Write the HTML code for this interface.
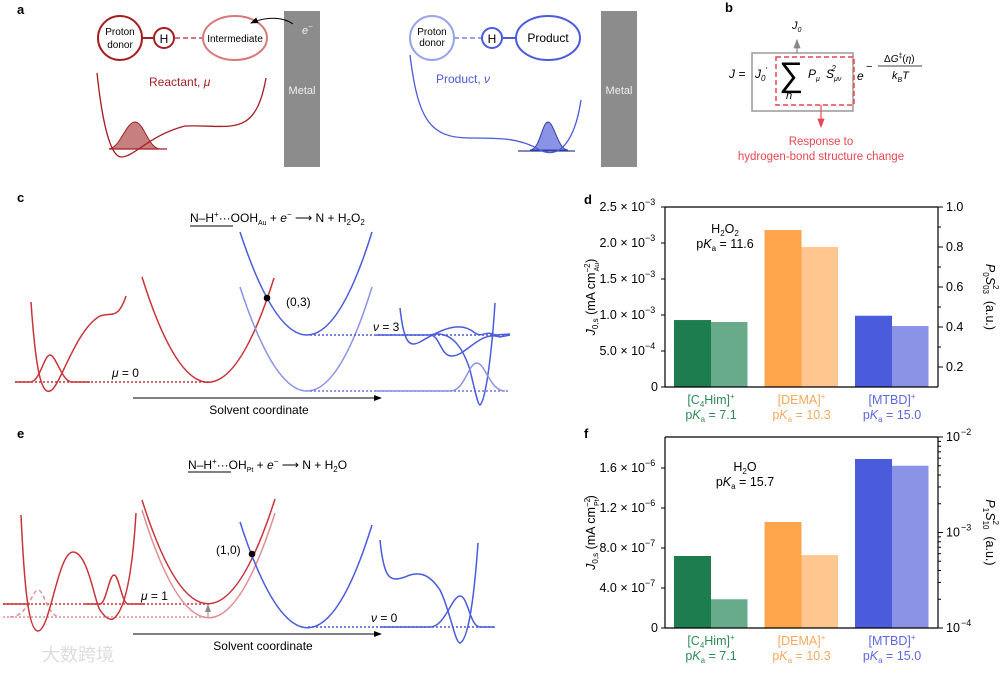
<!DOCTYPE html>
<html><head><meta charset="utf-8">
<style>
html,body{margin:0;padding:0;background:#fff;}
svg{display:block;font-family:"Liberation Sans","Noto Sans CJK SC",sans-serif;}
</style></head>
<body>
<svg id="fig" width="1008" height="674" viewBox="0 0 1008 674" xmlns="http://www.w3.org/2000/svg">
<defs>
<marker id="ah" markerWidth="8" markerHeight="8" refX="7" refY="4" orient="auto"><path d="M0,1 L8,4 L0,7 z" fill="#000"/></marker>
<marker id="ahg" markerWidth="8" markerHeight="8" refX="7" refY="4" orient="auto"><path d="M0,1 L8,4 L0,7 z" fill="#888"/></marker>
<marker id="ahr" markerWidth="8" markerHeight="8" refX="7" refY="4" orient="auto"><path d="M0,1 L8,4 L0,7 z" fill="#e8474f"/></marker>
</defs>
<g font-weight="bold" font-size="13">
<text x="17" y="14">a</text>
<text x="725" y="12">b</text>
<text x="17" y="202">c</text>
<text x="584" y="204">d</text>
<text x="17" y="438">e</text>
<text x="584" y="438">f</text>
</g>

<!-- Panel a -->
<g>
<circle cx="120" cy="38" r="22" fill="none" stroke="#a51e22" stroke-width="2"/>
<text x="120" y="35" font-size="10" text-anchor="middle">Proton</text>
<text x="120" y="48" font-size="10" text-anchor="middle">donor</text>
<line x1="142" y1="38" x2="153" y2="38" stroke="#a51e22" stroke-width="2"/>
<circle cx="164" cy="38" r="10" fill="none" stroke="#a51e22" stroke-width="2"/>
<text x="164" y="43" font-size="12" text-anchor="middle">H</text>
<line x1="175" y1="38" x2="203" y2="38" stroke="#d9787a" stroke-width="2" stroke-dasharray="5,3"/>
<ellipse cx="235" cy="38" rx="32" ry="22" fill="none" stroke="#d9787a" stroke-width="2"/>
<text x="235" y="42" font-size="10" text-anchor="middle">Intermediate</text>
<rect x="284" y="11" width="36" height="156" fill="#8c8c8c"/>
<text x="302" y="94" font-size="11" fill="#eee" text-anchor="middle">Metal</text>
<text x="302" y="34" font-size="11" fill="#eee" font-style="italic">e<tspan font-size="8" dy="-5">−</tspan></text>
<path d="M293,24 C282,16 265,17 251,23" fill="none" stroke="#000" stroke-width="1" marker-end="url(#ah)"/>
<text x="149" y="86" font-size="12" fill="#a51e22">Reactant, <tspan font-style="italic">μ</tspan></text>
<path d="M109,149 C120,148 126,122 135,122 C144,122 148,148 160,149 z" fill="#c77f80" stroke="#a51e22" stroke-width="1"/>
<line x1="109" y1="149" x2="167" y2="149" stroke="#a51e22" stroke-width="1.3"/>
<path d="M97,73 C102,120 110,158 122,157 C135,156 150,135 185,126 C230,124 255,140 266,78" fill="none" stroke="#a51e22" stroke-width="1.3"/>

<circle cx="432" cy="38" r="22" fill="none" stroke="#9aa3e8" stroke-width="2"/>
<text x="432" y="35" font-size="10" text-anchor="middle">Proton</text>
<text x="432" y="46" font-size="10" text-anchor="middle">donor</text>
<line x1="454" y1="38" x2="481" y2="38" stroke="#9aa3e8" stroke-width="2" stroke-dasharray="5,3"/>
<circle cx="492" cy="38" r="10" fill="none" stroke="#4a5bdc" stroke-width="2"/>
<text x="492" y="43" font-size="12" text-anchor="middle">H</text>
<line x1="502" y1="38" x2="516" y2="38" stroke="#4a5bdc" stroke-width="2"/>
<ellipse cx="548" cy="38" rx="32" ry="22" fill="none" stroke="#4a5bdc" stroke-width="2"/>
<text x="548" y="42" font-size="12" text-anchor="middle">Product</text>
<text x="436" y="83" font-size="12" fill="#4a5bdc">Product, <tspan font-style="italic">ν</tspan></text>
<rect x="601" y="11" width="36" height="156" fill="#8c8c8c"/>
<text x="619" y="94" font-size="11" fill="#eee" text-anchor="middle">Metal</text>
<path d="M530,150 C540,150 542,122 548,122 C554,122 558,150 568,150 z" fill="#8a93e6" stroke="#30409a" stroke-width="1"/>
<line x1="518" y1="151" x2="575" y2="151" stroke="#30409a" stroke-width="1.3"/>
<path d="M410,55 C418,120 430,138 470,138 C500,138 520,138 540,150 C560,160 575,140 581,100" fill="none" stroke="#4a5bdc" stroke-width="1.3"/>
</g>

<!-- Panel b -->
<g>
<rect x="752" y="53" width="101" height="58" fill="none" stroke="#999" stroke-width="1.5"/>
<rect x="776" y="57" width="78" height="48" fill="none" stroke="#e8474f" stroke-width="1.5" stroke-dasharray="5,3"/>
<text x="729" y="78" font-size="12" font-style="italic">J =</text>
<text x="755" y="78" font-size="12" font-style="italic">J<tspan font-size="8" dy="3">0</tspan><tspan dy="-8" font-size="8">′</tspan></text>
<text x="779" y="86" font-size="34">∑</text>
<text x="786" y="99" font-size="11" font-style="italic">n</text>
<text x="808" y="78" font-size="12" font-style="italic">P<tspan font-size="7" dy="3">μ</tspan></text>
<text x="826" y="78" font-size="12" font-style="italic">S<tspan font-size="7" dy="3">μν</tspan><tspan font-size="8" dx="-10" dy="-10">2</tspan></text>
<text x="857" y="80" font-size="12" font-style="italic">e</text>
<text x="866" y="70" font-size="11">−</text>
<text x="884" y="62" font-size="10">Δ<tspan font-style="italic">G</tspan><tspan font-size="7" dy="-4">‡</tspan><tspan dy="4">(</tspan><tspan font-style="italic">η</tspan>)</text>
<line x1="878" y1="66" x2="922" y2="66" stroke="#000" stroke-width="0.8"/>
<text x="892" y="79" font-size="11" font-style="italic">k<tspan font-size="7" dy="3">B</tspan><tspan dy="-3">T</tspan></text>
<text x="792" y="29" font-size="11" font-style="italic">J<tspan font-size="7" dy="3">0</tspan></text>
<line x1="797" y1="53" x2="797" y2="40" stroke="#888" stroke-width="1.2" marker-end="url(#ahg)"/>
<line x1="821" y1="105" x2="821" y2="127" stroke="#e8474f" stroke-width="1.2" marker-end="url(#ahr)"/>
<text x="821" y="145" font-size="11.5" fill="#e8474f" text-anchor="middle">Response to</text>
<text x="821" y="160" font-size="11.5" fill="#e8474f" text-anchor="middle">hydrogen-bond structure change</text>
</g>

<!-- Panel c -->
<g stroke-width="1.5" fill="none">
<text x="190" y="222" font-size="12" fill="#000" stroke="none">N–H<tspan font-size="8" dy="-5">+</tspan><tspan dy="5">···OOH</tspan><tspan font-size="7" dy="3">Au</tspan><tspan dy="-3"> + </tspan><tspan font-style="italic">e</tspan><tspan font-size="8" dy="-5">−</tspan><tspan dy="5"> ⟶  N + H</tspan><tspan font-size="8" dy="3">2</tspan><tspan dy="-3">O</tspan><tspan font-size="8" dy="3">2</tspan></text>
<line x1="190" y1="226" x2="233" y2="226" stroke="#000" stroke-width="1"/>
<line x1="15" y1="382" x2="210" y2="382" stroke="#c8343a" stroke-dasharray="2,2"/>
<path d="M31,302 C35,360 40,395 50,391 C60,388 75,330 100,316 C112,312 118,320 126,296" stroke="#c8343a"/>
<path d="M15,382 L30,382 C40,382 44,355 50,355 C56,355 62,382 72,382 L90,382" stroke="#c8343a"/>
<path d="M142,277 Q208,487 274,278" stroke="#c8343a"/>
<path d="M240,232 Q308,438 372,232" stroke="#4a5bdc"/>
<path d="M240,287 Q308,495 372,287" stroke="#8a93e6"/>
<line x1="310" y1="335" x2="510" y2="335" stroke="#4a5bdc" stroke-dasharray="2,2"/>
<line x1="310" y1="391" x2="510" y2="391" stroke="#6a78e0" stroke-dasharray="2,2"/>
<path d="M376,335 L430,335 C440,335 440,356 452,356 C466,356 480,330 500,337 L510,335" stroke="#4a5bdc"/>
<path d="M400,308 C404,345 410,347 420,342 C440,330 460,320 475,333 C482,338 486,330 495,335 L510,334" stroke="#4a5bdc"/>
<path d="M430,335 C450,330 462,345 470,370 C476,395 478,405 480,405 C486,400 492,350 495,303" stroke="#4a5bdc"/>
<path d="M376,391 L450,391 C465,391 468,363 477,363 C485,363 490,391 505,391" stroke="#8a93e6"/>
<circle cx="267" cy="298" r="3.3" fill="#000" stroke="none"/>
<text x="286" y="306" font-size="12" fill="#000" stroke="none">(0,3)</text>
<text x="112" y="377" font-size="12" fill="#000" stroke="none"><tspan font-style="italic">μ</tspan> = 0</text>
<text x="373" y="331" font-size="12" fill="#000" stroke="none"><tspan font-style="italic">ν</tspan> = 3</text>
<line x1="133" y1="398" x2="381" y2="398" stroke="#000" stroke-width="1" marker-end="url(#ah)"/>
<text x="259" y="414" font-size="12" fill="#000" stroke="none" text-anchor="middle">Solvent coordinate</text>
</g>

<!-- Panel e -->
<g stroke-width="1.5" fill="none">
<text x="188" y="469" font-size="12" fill="#000" stroke="none">N–H<tspan font-size="8" dy="-5">+</tspan><tspan dy="5">···OH</tspan><tspan font-size="7" dy="3">Pt</tspan><tspan dy="-3"> + </tspan><tspan font-style="italic">e</tspan><tspan font-size="8" dy="-5">−</tspan><tspan dy="5"> ⟶ N + H</tspan><tspan font-size="8" dy="3">2</tspan><tspan dy="-3">O</tspan></text>
<line x1="188" y1="472" x2="231" y2="472" stroke="#000" stroke-width="1"/>
<line x1="3" y1="604" x2="210" y2="604" stroke="#c8343a" stroke-dasharray="2,2"/>
<line x1="3" y1="617" x2="210" y2="617" stroke="#e09093" stroke-dasharray="2,2"/>
<path d="M10,617 C28,617 32,590 38,590 C44,590 48,617 60,617" stroke="#e09093" stroke-dasharray="4,3"/>
<path d="M21,515 C24,580 28,631 38,631 C50,631 58,552 73,552 C88,552 95,604 100,610 C106,619 110,620 113,619 C124,612 132,580 136,513" stroke="#c8343a"/>
<path d="M3,604 L30,604 M85,604 L100,604 C106,604 109,575 114,575 C119,575 122,604 128,604 L145,604" stroke="#c8343a"/>
<path d="M142,500 Q208,708 275,499" stroke="#c8343a"/>
<path d="M142,510 Q208,724 275,513" stroke="#e09093"/>
<line x1="208" y1="616" x2="208" y2="605" stroke="#888" stroke-width="1" marker-end="url(#ahg)"/>
<path d="M240,522 Q308,732 372,525" stroke="#4a5bdc"/>
<line x1="308" y1="627" x2="495" y2="627" stroke="#4a5bdc" stroke-dasharray="2,2"/>
<path d="M380,540 C384,580 390,582 405,577 C420,570 430,575 440,590 C450,610 455,643 460,643 C468,640 474,600 478,543" stroke="#4a5bdc"/>
<path d="M380,627 L430,627 C445,627 452,596 460,596 C468,596 470,627 480,627 L495,627" stroke="#4a5bdc"/>
<circle cx="252" cy="554" r="3.3" fill="#000" stroke="none"/>
<text x="216" y="554" font-size="12" fill="#000" stroke="none">(1,0)</text>
<text x="141" y="600" font-size="12" fill="#000" stroke="none"><tspan font-style="italic">μ</tspan> = 1</text>
<text x="371" y="622" font-size="12" fill="#000" stroke="none"><tspan font-style="italic">ν</tspan> = 0</text>
<line x1="133" y1="634" x2="381" y2="634" stroke="#000" stroke-width="1" marker-end="url(#ah)"/>
<text x="263" y="650" font-size="12" fill="#000" stroke="none" text-anchor="middle">Solvent coordinate</text>
<text x="42" y="661" font-size="18" fill="#ddd" stroke="none">大数跨境</text>
</g>

<g id="chartD"></g>
<g id="chartF"></g>
</svg>
<script>
const categories = ["[C4Him]+", "[DEMA]+", "[MTBD]+"];
const pkaLabels = ["7.1", "10.3", "15.0"];
const dLeftValues = [0.93e-3, 2.18e-3, 0.99e-3];
const dRightValues = [0.425, 0.80, 0.405];
const dLeftTicks = ["0", "5.0 × 10", "1.0 × 10", "1.5 × 10", "2.0 × 10", "2.5 × 10"];
const dLeftTickVals = [0, 0.5e-3, 1.0e-3, 1.5e-3, 2.0e-3, 2.5e-3];
const dLeftTickExp = ["", "−4", "−3", "−3", "−3", "−3"];
const dRightTickVals = [0.2, 0.4, 0.6, 0.8, 1.0];
const dRightTicks = ["0.2", "0.4", "0.6", "0.8", "1.0"];
const fLeftValues = [0.72e-6, 1.06e-6, 1.69e-6];
const fRightValues = [2.0e-4, 5.8e-4, 5.0e-3];
const fLeftTickVals = [0, 4e-7, 8e-7, 1.2e-6, 1.6e-6];
const fLeftTicks = ["0", "4.0 × 10", "8.0 × 10", "1.2 × 10", "1.6 × 10"];
const fLeftTickExp = ["", "−7", "−7", "−6", "−6"];
const fRightTickVals = [1e-4, 1e-3, 1e-2];
const fRightTickExp = ["−4", "−3", "−2"];

const NS = "http://www.w3.org/2000/svg";
const darkC = ["#1e7d4f", "#ffa64d", "#4a5bdc"];
const lightC = ["#68ab8a", "#ffc78f", "#8a93e6"];
const labC = ["#2e8b57", "#f7a95c", "#5b67e0"];
function mk(parent, tag, attrs, text) {
  const e = document.createElementNS(NS, tag);
  for (const k in attrs) e.setAttribute(k, attrs[k]);
  if (text !== undefined) e.textContent = text;
  parent.appendChild(e);
  return e;
}
function drawChart(gid, o) {
  const g = document.getElementById(gid);
  const X0 = 665, X1 = 938, top = o.top, bot = o.bot;
  const yL = v => bot - (v - 0) / o.lMax * (bot - top);
  const yR = o.rLog
    ? v => bot - (Math.log10(v) - Math.log10(o.rMin)) / (Math.log10(o.rMax) - Math.log10(o.rMin)) * (bot - top)
    : v => bot - (v - o.rMin) / (o.rMax - o.rMin) * (bot - top);
  const groupX = i => 674 + i * 90.5;
  for (let i = 0; i < categories.length; i++) {
    const x = groupX(i);
    const b1 = mk(g, "rect", {x: x, y: yL(o.lv[i]), width: 37, height: bot - yL(o.lv[i]), fill: darkC[i]});
    
    
    const b2 = mk(g, "rect", {x: x + 37, y: yR(o.rv[i]), width: 36.5, height: bot - yR(o.rv[i]), fill: lightC[i]});
    
    
    const cx = x + 37;
    const t1 = mk(g, "text", {x: cx, y: bot + 17, "font-size": 12.5, fill: labC[i], "text-anchor": "middle"});
    
    
    if (i === 0) { t1.innerHTML = '[C<tspan font-size="8" dy="3">4</tspan><tspan dy="-3">Him]</tspan><tspan font-size="8" dy="-5">+</tspan>'; }
    else { t1.innerHTML = categories[i].slice(0, -1) + '<tspan font-size="8" dy="-5">+</tspan>'; }
    const t2 = mk(g, "text", {x: cx, y: bot + 32, "font-size": 12.5, fill: labC[i], "text-anchor": "middle"});
    
    
    t2.innerHTML = 'p<tspan font-style="italic">K</tspan><tspan font-size="8" dy="3">a</tspan><tspan dy="-3"> = ' + pkaLabels[i] + '</tspan>';
  }
  mk(g, "line", {x1: X0, y1: top, x2: X0, y2: bot, stroke: "#000", "stroke-width": 1.2});
  mk(g, "line", {x1: X1, y1: top, x2: X1, y2: bot, stroke: "#000", "stroke-width": 1.2});
  mk(g, "line", {x1: X0, y1: bot, x2: X1, y2: bot, stroke: "#000", "stroke-width": 1.2});
  mk(g, "line", {x1: X0, y1: top, x2: X1, y2: top, stroke: "#000", "stroke-width": 1.2});
  o.lTicks.forEach((v, i) => {
    const y = yL(v);
    mk(g, "line", {x1: X0 - 4, y1: y, x2: X0, y2: y, stroke: "#000"});
    const t = mk(g, "text", {x: X0 - 7, y: y + 4, "font-size": 12.5, "text-anchor": "end"});
    
    
    if (o.lExp[i]) { t.setAttribute("x", X0 - 20); t.textContent = o.lLab[i]; mk(g, "text", {x: X0 - 20, y: y - 2, "font-size": 9}, o.lExp[i]); }
    else t.textContent = o.lLab[i];
  });
  o.rTicks.forEach((v, i) => {
    const y = yR(v);
    mk(g, "line", {x1: X1, y1: y, x2: X1 + 5, y2: y, stroke: "#000"});
    const t = mk(g, "text", {x: X1 + 8, y: y + 4, "font-size": 12.5});
    
    
    if (o.rLog) { t.textContent = "10"; mk(g, "text", {x: X1 + 23, y: y - 2, "font-size": 9}, o.rExp[i]); }
    else t.textContent = o.rLab[i];
  });
  (o.minor || []).forEach(v => { const y = yR(v); mk(g, "line", {x1: X1, y1: y, x2: X1 + 3, y2: y, stroke: "#000"}); });
  const yl = mk(g, "text", {transform: "translate(" + (X0 - 70) + "," + ((top + bot) / 2) + ") rotate(-90)", "font-size": 12.5, "text-anchor": "middle"});
  
  
  yl.innerHTML = '<tspan font-style="italic">J</tspan><tspan font-size="8" dy="3">0,s</tspan><tspan dy="-3"> (mA cm</tspan><tspan font-size="8" dy="-5">−2</tspan><tspan font-size="7" dx="-8" dy="9">' + o.sub + '</tspan><tspan dy="-4">)</tspan>';
  const yr = mk(g, "text", {transform: "translate(" + (X1 + 48) + "," + ((top + bot) / 2) + ") rotate(90)", "font-size": 12.5, "text-anchor": "middle"});
  
  
  yr.innerHTML = '<tspan font-style="italic">P</tspan><tspan font-size="8" dy="3">' + o.rs[0] + '</tspan><tspan font-style="italic" dy="-3">S</tspan><tspan font-size="8" dy="3">' + o.rs[1] + '</tspan><tspan font-size="8" dx="-9" dy="-10">2</tspan><tspan dx="8" dy="7"> (a.u.)</tspan>';
  const a1 = mk(g, "text", {x: o.annX, y: o.annY, "font-size": 12.5, "text-anchor": "middle"});
  a1.innerHTML = o.ann;
  
  
  const a2 = mk(g, "text", {x: o.annX, y: o.annY + 15, "font-size": 12.5, "text-anchor": "middle"});
  a2.innerHTML = 'p<tspan font-style="italic">K</tspan><tspan font-size="8" dy="3">a</tspan><tspan dy="-3"> = ' + o.annPka + '</tspan>';
  
  
}
drawChart("chartD", {top: 207, bot: 387, lMax: 2.5e-3, lv: dLeftValues, rv: dRightValues, rMin: 0.1, rMax: 1.0,
  lTicks: dLeftTickVals, lLab: dLeftTicks, lExp: dLeftTickExp, rTicks: dRightTickVals, rLab: dRightTicks,
  minor: [0.3, 0.5, 0.7, 0.9], sub: "Au", rs: ["0", "03"], annX: 725, annY: 233,
  ann: 'H<tspan font-size="8" dy="3">2</tspan><tspan dy="-3">O</tspan><tspan font-size="8" dy="3">2</tspan>', annPka: "11.6"});
drawChart("chartF", {top: 437, bot: 628, lMax: 1.91e-6, lv: fLeftValues, rv: fRightValues, rLog: true, rMin: 1e-4, rMax: 1e-2,
  lTicks: fLeftTickVals, lLab: fLeftTicks, lExp: fLeftTickExp, rTicks: fRightTickVals, rExp: fRightTickExp,
  minor: [2e-4,3e-4,4e-4,5e-4,6e-4,7e-4,8e-4,9e-4,2e-3,3e-3,4e-3,5e-3,6e-3,7e-3,8e-3,9e-3], sub: "Pt", rs: ["1", "10"], annX: 745, annY: 471,
  ann: 'H<tspan font-size="8" dy="3">2</tspan><tspan dy="-3">O</tspan>', annPka: "15.7"});
</script>
</body></html>
